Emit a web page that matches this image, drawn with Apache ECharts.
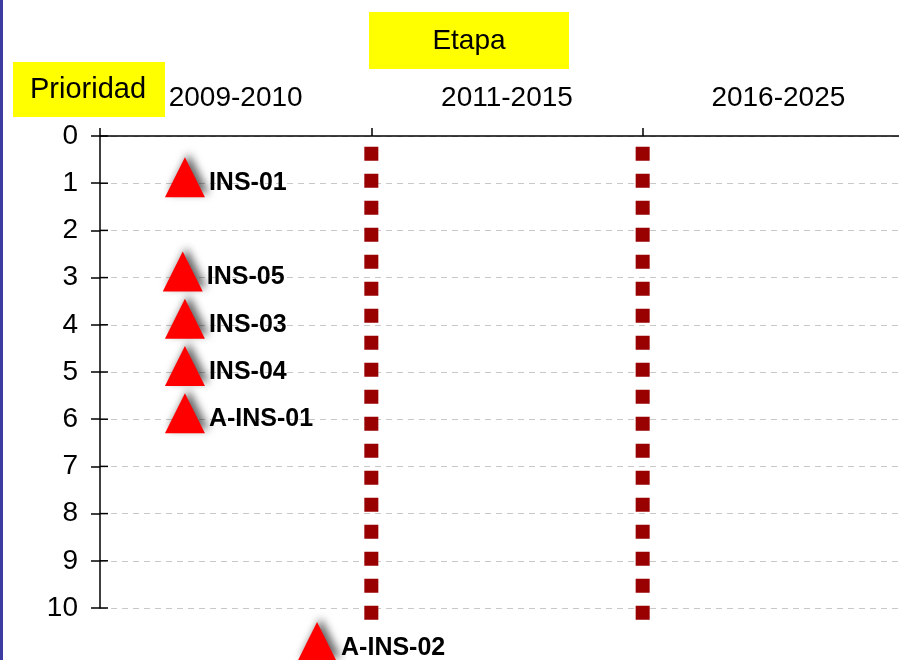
<!DOCTYPE html>
<html>
<head>
<meta charset="utf-8">
<script src="https://cdn.jsdelivr.net/npm/echarts@6/dist/echarts.min.js"></script>
<style>
html,body{margin:0;padding:0;background:#fff;}
#chart{width:899px;height:660px;}
</style>
</head>
<body>
<div id="chart"></div>
<script>
// Categories (stages) on the top axis
var stages = ['2009-2010', '2011-2015', '2016-2025'];
// Priority axis ticks
var priorityTicks = [0, 1, 2, 3, 4, 5, 6, 7, 8, 9, 10];
// Point names, stage position (in stage units from 0..3) and priority
var pointNames = ['INS-01', 'INS-05', 'INS-03', 'INS-04', 'A-INS-01', 'A-INS-02'];
var pointStage = [0.313, 0.305, 0.313, 0.313, 0.313, 0.80];
var pointPriority = [1, 3, 4, 5, 6, 10.85];
// Separator lines between stages
var separatorX = [1, 2];
var separatorY = [0.23, 10.32];
// Axis titles
var axisTitleX = 'Etapa';
var axisTitleY = 'Prioridad';

var chart = echarts.init(document.getElementById('chart'));
var font = 'Liberation Sans, Arial, sans-serif';

var scatterData = pointNames.map(function (n, i) {
  return { name: n, value: [pointStage[i], pointPriority[i]] };
});

var sepSeries = separatorX.map(function (x) {
  return {
    type: 'line',
    xAxisIndex: 1,
    yAxisIndex: 0,
    data: [[x, separatorY[0]], [x, separatorY[1]]],
    symbol: 'none',
    silent: true,
    clip: false,
    lineStyle: { color: '#990000', width: 14, type: [14, 13], cap: 'butt' },
    z: 2
  };
});

var GRID_W = 814;

chart.setOption({
  animation: false,
  backgroundColor: '#ffffff',
  grid: { left: 100, top: 136, width: GRID_W, height: 472, containLabel: false, outerBoundsMode: 'none' },
  xAxis: [
    {
      type: 'category',
      position: 'top',
      data: stages,
      boundaryGap: true,
      axisLine: { show: true, lineStyle: { color: '#000', width: 1.5 } },
      axisTick: { show: true, length: 8, lineStyle: { color: '#000', width: 1.5 } },
      axisLabel: { fontFamily: font, fontSize: 28, color: '#000', margin: 24 },
      splitLine: { show: false }
    },
    {
      type: 'value',
      min: 0, max: 3,
      show: false
    }
  ],
  yAxis: [
    {
      type: 'value',
      position: 'left',
      inverse: true,
      min: 0, max: 10, interval: 1,
      axisLine: { show: true, onZero: false, lineStyle: { color: '#000', width: 1.5 } },
      axisTick: { show: true, length: 9, lineStyle: { color: '#000', width: 1.5 } },
      axisLabel: { fontFamily: font, fontSize: 28, color: '#000', margin: 22 },
      splitLine: { show: true, lineStyle: { color: '#c8c8c8', type: [6, 5], width: 1 } }
    }
  ],
  series: sepSeries.concat([
    {
      // inner half of the crossing tick marks on the priority axis
      type: 'custom',
      xAxisIndex: 1,
      yAxisIndex: 0,
      silent: true,
      data: priorityTicks.map(function (v) { return [0, v]; }),
      renderItem: function (params, api) {
        var p = api.coord([0, api.value(1)]);
        return {
          type: 'line',
          shape: { x1: p[0], y1: p[1], x2: p[0] + 8, y2: p[1] },
          style: { stroke: '#000', lineWidth: 1.5 }
        };
      },
      z: 3
    },
    {
      type: 'scatter',
      xAxisIndex: 1,
      yAxisIndex: 0,
      data: scatterData,
      clip: false,
      symbol: 'triangle',
      symbolSize: [40, 40],
      symbolOffset: [0, -6],
      itemStyle: {
        color: '#ff0000',
        shadowColor: 'rgba(0,0,0,0.6)',
        shadowBlur: 9,
        shadowOffsetX: 4,
        shadowOffsetY: -4,
        opacity: 1
      },
      label: {
        show: true,
        position: 'right',
        distance: 4,
        offset: [0, 6],
        formatter: function (p) { return p.name; },
        fontFamily: font,
        fontSize: 25,
        fontWeight: 'bold',
        color: '#000'
      },
      z: 5
    }
  ]),
  graphic: [
    { type: 'rect', left: 0, top: 0, shape: { width: 3, height: 660 }, style: { fill: '#3c3ca0' }, z: 100 },
    { type: 'rect', left: 369, top: 12, shape: { width: 200, height: 57 }, style: { fill: '#ffff00' }, z: 100 },
    { type: 'text', x: 469, y: 41, style: { text: axisTitleX, fontFamily: font, fontSize: 28, fill: '#000', align: 'center', verticalAlign: 'middle' }, z: 101 },
    { type: 'rect', left: 13, top: 62, shape: { width: 152, height: 55 }, style: { fill: '#ffff00' }, z: 100 },
    { type: 'text', x: 30, y: 90, style: { text: axisTitleY, fontFamily: font, fontSize: 29, fill: '#000', align: 'left', verticalAlign: 'middle' }, z: 101 }
  ]
});
</script>
</body>
</html>
